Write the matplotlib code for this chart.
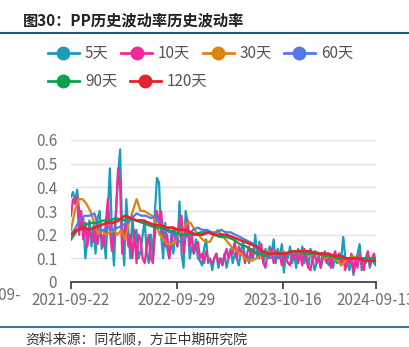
import numpy as np
import matplotlib
matplotlib.use('Agg')
import matplotlib.pyplot as plt
from matplotlib.lines import Line2D

plt.rcParams['font.family'] = ['Noto Sans CJK SC', 'DejaVu Sans']

# 数据
n_days = 719
tick_pos = [0, 250, 500, 719]
tick_labels = ['2021-09-22', '2022-09-29', '2023-10-16', '2024-09-13']

vol_5 = [0.36, 0.38, 0.34, 0.39, 0.3, 0.22, 0.27, 0.1, 0.18, 0.26,
         0.15, 0.24, 0.12, 0.27, 0.3, 0.14, 0.2, 0.1, 0.3, 0.48,
         0.2, 0.07, 0.3, 0.45, 0.56, 0.2, 0.07, 0.35, 0.22, 0.1,
         0.28, 0.15, 0.22, 0.1, 0.13, 0.2, 0.26, 0.12, 0.08, 0.2,
         0.1, 0.3, 0.44, 0.42, 0.2, 0.1, 0.25, 0.14, 0.1, 0.2,
         0.12, 0.22, 0.15, 0.34, 0.12, 0.06, 0.3, 0.25, 0.1, 0.15,
         0.12, 0.18, 0.1, 0.09, 0.07, 0.14, 0.18, 0.08, 0.1, 0.05,
         0.1, 0.12, 0.06, 0.1, 0.08, 0.12, 0.06, 0.1, 0.14, 0.08,
         0.12, 0.1, 0.07, 0.13, 0.17, 0.1, 0.12, 0.08, 0.14, 0.1,
         0.2, 0.1, 0.17, 0.12, 0.08, 0.14, 0.1, 0.15, 0.12, 0.18,
         0.08, 0.14, 0.1, 0.16, 0.04, 0.12, 0.1, 0.15, 0.08, 0.12,
         0.06, 0.14, 0.1, 0.15, 0.08, 0.12, 0.06, 0.14, 0.1, 0.05,
         0.08, 0.12, 0.06, 0.1, 0.13, 0.09, 0.07, 0.11, 0.06, 0.1,
         0.08, 0.12, 0.1, 0.19, 0.1, 0.08, 0.05, 0.1, 0.03, 0.08,
         0.12, 0.16, 0.05, 0.1, 0.08, 0.12, 0.06, 0.1, 0.08, 0.07]

vol_10 = [0.28, 0.35, 0.33, 0.36, 0.2, 0.3, 0.18, 0.25, 0.15, 0.22,
          0.2, 0.17, 0.25, 0.16, 0.22, 0.19, 0.15, 0.25, 0.35, 0.22,
          0.13, 0.2, 0.3, 0.48, 0.4, 0.12, 0.22, 0.25, 0.15, 0.2,
          0.1, 0.22, 0.08, 0.2, 0.18, 0.1, 0.08, 0.15, 0.2, 0.1,
          0.08, 0.2, 0.3, 0.25, 0.3, 0.2, 0.15, 0.2, 0.1, 0.16,
          0.23, 0.18, 0.15, 0.25, 0.28, 0.12, 0.2, 0.26, 0.15, 0.2,
          0.12, 0.15, 0.17, 0.1, 0.12, 0.08, 0.13, 0.1, 0.09, 0.08,
          0.1, 0.12, 0.08, 0.1, 0.07, 0.11, 0.14, 0.1, 0.13, 0.12,
          0.17, 0.1, 0.15, 0.12, 0.13, 0.08, 0.12, 0.15, 0.1, 0.14,
          0.12, 0.13, 0.1, 0.16, 0.08, 0.06, 0.12, 0.1, 0.14, 0.08,
          0.13, 0.1, 0.12, 0.07, 0.11, 0.1, 0.08, 0.07, 0.12, 0.1,
          0.13, 0.08, 0.12, 0.07, 0.14, 0.09, 0.06, 0.05, 0.1, 0.12,
          0.08, 0.1, 0.06, 0.12, 0.1, 0.08, 0.12, 0.06, 0.1, 0.13,
          0.09, 0.12, 0.07, 0.11, 0.05, 0.1, 0.08, 0.12, 0.04, 0.1,
          0.06, 0.12, 0.08, 0.05, 0.1, 0.13, 0.07, 0.1, 0.12, 0.08]

vol_30 = [0.22, 0.3, 0.35, 0.35, 0.33, 0.3, 0.25, 0.2, 0.22, 0.2,
          0.21, 0.22, 0.2, 0.22, 0.18, 0.25, 0.3, 0.35, 0.3, 0.3,
          0.29, 0.28, 0.25, 0.2, 0.18, 0.16, 0.16, 0.17, 0.2, 0.22,
          0.25, 0.25, 0.22, 0.2, 0.18, 0.17, 0.17, 0.2, 0.22, 0.2,
          0.18, 0.16, 0.14, 0.13, 0.12, 0.1, 0.09, 0.09, 0.1, 0.11,
          0.12, 0.13, 0.12, 0.11, 0.12, 0.13, 0.12, 0.12, 0.13, 0.12,
          0.13, 0.12, 0.11, 0.12, 0.12, 0.11, 0.1, 0.11, 0.1, 0.09,
          0.07, 0.09, 0.1, 0.11, 0.1, 0.1, 0.09, 0.09, 0.1, 0.09]

vol_60 = [0.2, 0.23, 0.27, 0.28, 0.28, 0.29, 0.22, 0.22, 0.23, 0.22,
          0.23, 0.24, 0.25, 0.27, 0.29, 0.28, 0.28, 0.27, 0.28, 0.24,
          0.22, 0.21, 0.2, 0.17, 0.18, 0.2, 0.22, 0.23, 0.22, 0.22,
          0.21, 0.21, 0.22, 0.21, 0.21, 0.2, 0.19, 0.18, 0.17, 0.16,
          0.14, 0.12, 0.11, 0.1, 0.11, 0.11, 0.12, 0.12, 0.12, 0.13,
          0.12, 0.12, 0.13, 0.12, 0.12, 0.11, 0.11, 0.1, 0.1, 0.1,
          0.1, 0.1, 0.09, 0.09, 0.09, 0.09]

vol_90 = [0.18, 0.22, 0.24, 0.25, 0.25, 0.26, 0.26, 0.27, 0.26, 0.27,
          0.26, 0.25, 0.24, 0.23, 0.23, 0.22, 0.21, 0.2, 0.2, 0.2,
          0.21, 0.21, 0.2, 0.19, 0.19, 0.18, 0.16, 0.15, 0.13, 0.12,
          0.11, 0.12, 0.12, 0.12, 0.13, 0.13, 0.12, 0.12, 0.12, 0.11,
          0.11, 0.1, 0.1, 0.1, 0.1, 0.1, 0.1, 0.1]

vol_120 = [0.2, 0.22, 0.23, 0.22, 0.23, 0.24, 0.25, 0.25, 0.26, 0.28,
           0.27, 0.26, 0.26, 0.25, 0.24, 0.24, 0.23, 0.23, 0.22, 0.22,
           0.21, 0.2, 0.2, 0.21, 0.2, 0.2, 0.2, 0.19, 0.18, 0.17,
           0.16, 0.15, 0.13, 0.12, 0.12, 0.12, 0.12, 0.13, 0.13, 0.13,
           0.13, 0.12, 0.12, 0.12, 0.11, 0.11, 0.1, 0.1, 0.1, 0.09,
           0.09, 0.09]

names = ['5天', '10天', '30天', '60天', '90天', '120天']
series = [vol_5, vol_10, vol_30, vol_60, vol_90, vol_120]
colors = ['#1a9cba', '#f02a9b', '#db8410', '#5279e6', '#0ba34c', '#e8212e']
widths = [1.6, 1.6, 1.6, 1.6, 1.7, 1.9]

W, H = 410, 347
fig = plt.figure(figsize=(W / 100, H / 100), dpi=100)


def fx(px):
    return px / W


def fy(py):
    return 1 - py / H


ax = fig.add_axes([fx(71), fy(282), fx(376) - fx(71), fy(140) - fy(282)])
for vals, c, lw in zip(series, colors, widths):
    x = np.linspace(0, n_days, len(vals))
    ax.plot(x, vals, color=c, lw=lw, solid_joinstyle='round', zorder=3)

ax.set_xlim(0, n_days)
ax.set_ylim(0, 0.6)
ax.set_yticks([0, 0.1, 0.2, 0.3, 0.4, 0.5, 0.6])
ax.set_yticklabels(['0', '0.1', '0.2', '0.3', '0.4', '0.5', '0.6'])
ax.set_xticks(tick_pos)
ax.set_xticklabels(tick_labels)
ax.grid(axis='y', color='#e0e3ef', lw=1)
ax.set_axisbelow(True)
for s in ['top', 'right', 'left']:
    ax.spines[s].set_visible(False)
ax.spines['bottom'].set_color('#444444')
ax.spines['bottom'].set_linewidth(1.3)
ax.tick_params(axis='y', length=0, pad=10, labelsize=11, labelcolor='#6e7079')
ax.tick_params(axis='x', length=5, width=1.3, color='#444444', pad=2,
               labelsize=11, labelcolor='#6e7079')

# 左侧被截断的日期标签
fig.text(fx(21), fy(296), '2021-09-', ha='right', va='center', fontsize=11, color='#6e7079')

# 图例
legend_pos = [(48, 53), (121, 53), (203, 53), (284, 53), (48, 81), (130, 81)]
for (lx, ly), name, c in zip(legend_pos, names, colors):
    fig.add_artist(Line2D([fx(lx), fx(lx + 31)], [fy(ly), fy(ly)], color=c, lw=2,
                          transform=fig.transFigure))
    fig.add_artist(Line2D([fx(lx + 15.5)], [fy(ly)], marker='o', markersize=9, color=c,
                          transform=fig.transFigure))
    fig.text(fx(lx + 37), fy(ly), name, ha='left', va='center', fontsize=11, color='#555555')

# 标题与来源
fig.text(fx(23), fy(20), '图30：PP历史波动率历史波动率', ha='left', va='center',
         fontsize=11, fontweight='bold', color='#222222')
fig.add_artist(Line2D([0, 1], [fy(33), fy(33)], color='#1d5a87', lw=1.5,
                      transform=fig.transFigure))
fig.add_artist(Line2D([0, 1], [fy(327), fy(327)], color='#1d5a87', lw=1.2,
                      transform=fig.transFigure))
fig.text(fx(25), fy(339), '资料来源：同花顺，方正中期研究院', ha='left', va='center',
         fontsize=10, style='italic', color='#333333')

fig.savefig('out.png', dpi=100)
